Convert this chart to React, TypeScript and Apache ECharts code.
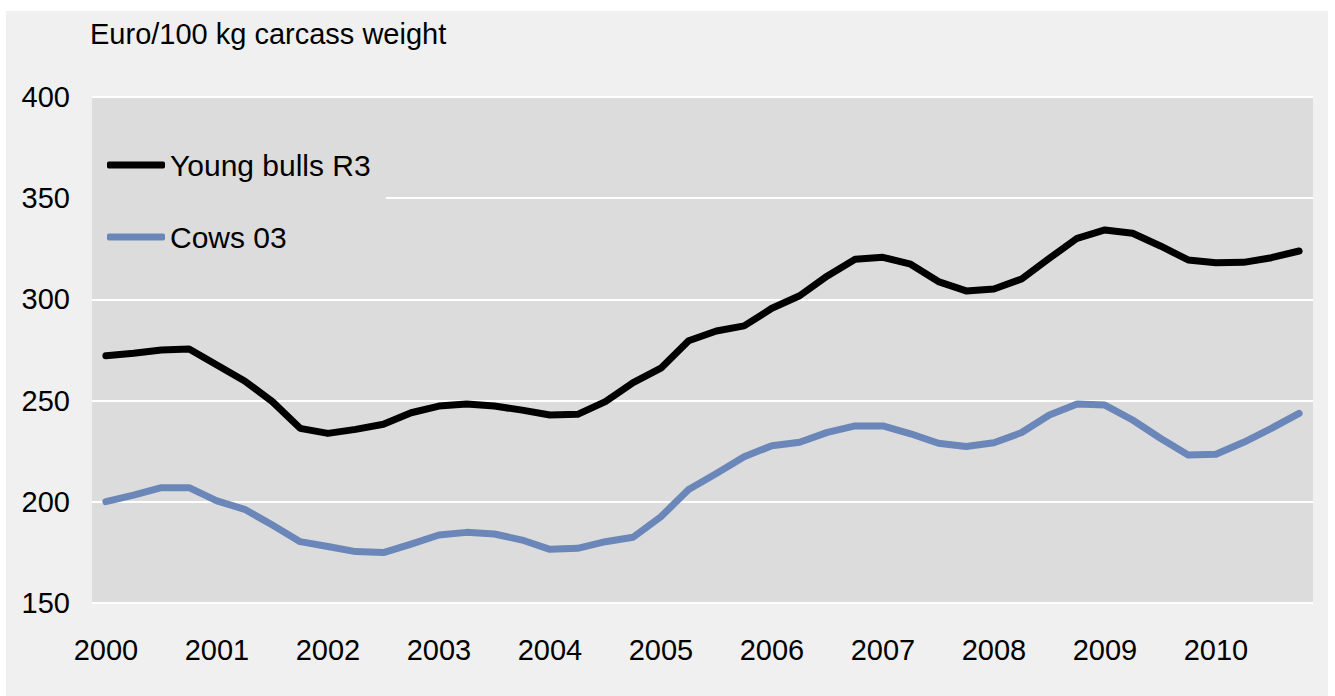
import React, { useEffect, useRef } from "react";
import * as echarts from "echarts";

const years = ["2000", "2001", "2002", "2003", "2004", "2005", "2006", "2007", "2008", "2009", "2010"];
const quarters = ["Q1", "Q2", "Q3", "Q4"];
const categories: string[] = years.flatMap((y) => quarters.map((q) => `${y} ${q}`));

const youngBulls = [
  272.2, 273.4, 275.0, 275.5, 267.6, 259.7, 249.5, 236.3, 233.8, 235.8, 238.3,
  244.0, 247.3, 248.3, 247.3, 245.3, 242.9, 243.2, 249.5, 258.9, 266.0, 279.6,
  284.4, 286.9, 295.6, 301.8, 311.6, 319.8, 320.8, 317.4, 308.8, 304.2, 305.1,
  310.1, 320.3, 330.2, 334.3, 332.7, 326.4, 319.5, 318.1, 318.3, 320.6, 323.9,
];
const cows = [
  200.1, 203.3, 207.0, 207.0, 200.5, 196.3, 188.5, 180.3, 177.9, 175.4, 174.9,
  179.1, 183.6, 184.9, 184.1, 181.1, 176.5, 177.0, 180.3, 182.5, 192.6, 206.1,
  214.0, 222.3, 227.7, 229.4, 234.3, 237.5, 237.5, 233.6, 228.9, 227.3, 229.2,
  234.2, 242.9, 248.3, 247.8, 240.4, 231.4, 223.1, 223.5, 229.4, 236.3, 243.7,
];

const seriesNames = ["Young bulls R3", "Cows 03"];
const seriesColors = ["#000000", "#6b87b9"];
const unitLabel = "Euro/100 kg carcass weight";

const FONT = "'Liberation Sans', Arial, sans-serif";

export default function App() {
  const ref = useRef<HTMLDivElement>(null);
  useEffect(() => {
    if (!ref.current) return;
    const chart = echarts.init(ref.current, null, { renderer: "svg" });
    chart.setOption({
      animation: false,
      backgroundColor: "#f0f0f0",
      textStyle: { fontFamily: FONT },
      title: {
        text: unitLabel,
        left: 84,
        top: 8,
        padding: 0,
        textStyle: { fontFamily: FONT, fontSize: 29, fontWeight: "normal", color: "#000" },
      },
      legend: {
        orient: "vertical",
        left: 86,
        top: 124,
        padding: [15, 15, 15, 15],
        backgroundColor: "#dcdcdc",
        itemWidth: 58,
        itemHeight: 7,
        itemGap: 42,
        icon: "roundRect",
        textStyle: { fontFamily: FONT, fontSize: 30, color: "#000" },
        data: seriesNames,
      },
      grid: {
        left: 86,
        right: 15,
        top: 86,
        bottom: 93,
        show: true,
        backgroundColor: "#dcdcdc",
        borderWidth: 0,
      },
      xAxis: {
        type: "category",
        data: categories,
        boundaryGap: true,
        axisLine: { show: false },
        axisTick: { show: false },
        splitLine: { show: false },
        axisLabel: {
          interval: 3,
          margin: 32,
          color: "#000",
          fontFamily: FONT,
          fontSize: 29,
          formatter: (v: string) => v.slice(0, 4),
        },
      },
      yAxis: {
        type: "value",
        min: 150,
        max: 400,
        interval: 50,
        axisLine: { show: false },
        axisTick: { show: false },
        splitLine: { show: true, lineStyle: { color: "#ffffff", width: 2 } },
        axisLabel: { margin: 22, color: "#000", fontFamily: FONT, fontSize: 29 },
      },
      series: [
        {
          name: seriesNames[0],
          type: "line",
          data: youngBulls,
          showSymbol: false,
          symbol: "none",
          color: seriesColors[0],
          lineStyle: { color: seriesColors[0], width: 7, cap: "round", join: "round" },
          z: 3,
        },
        {
          name: seriesNames[1],
          type: "line",
          data: cows,
          showSymbol: false,
          symbol: "none",
          color: seriesColors[1],
          lineStyle: { color: seriesColors[1], width: 7, cap: "round", join: "round" },
          z: 2,
        },
      ],
    });
    return () => chart.dispose();
  }, []);
  return (
    <div
      ref={ref}
      style={{ position: "absolute", left: 6, top: 11, width: 1322, height: 685 }}
    />
  );
}
